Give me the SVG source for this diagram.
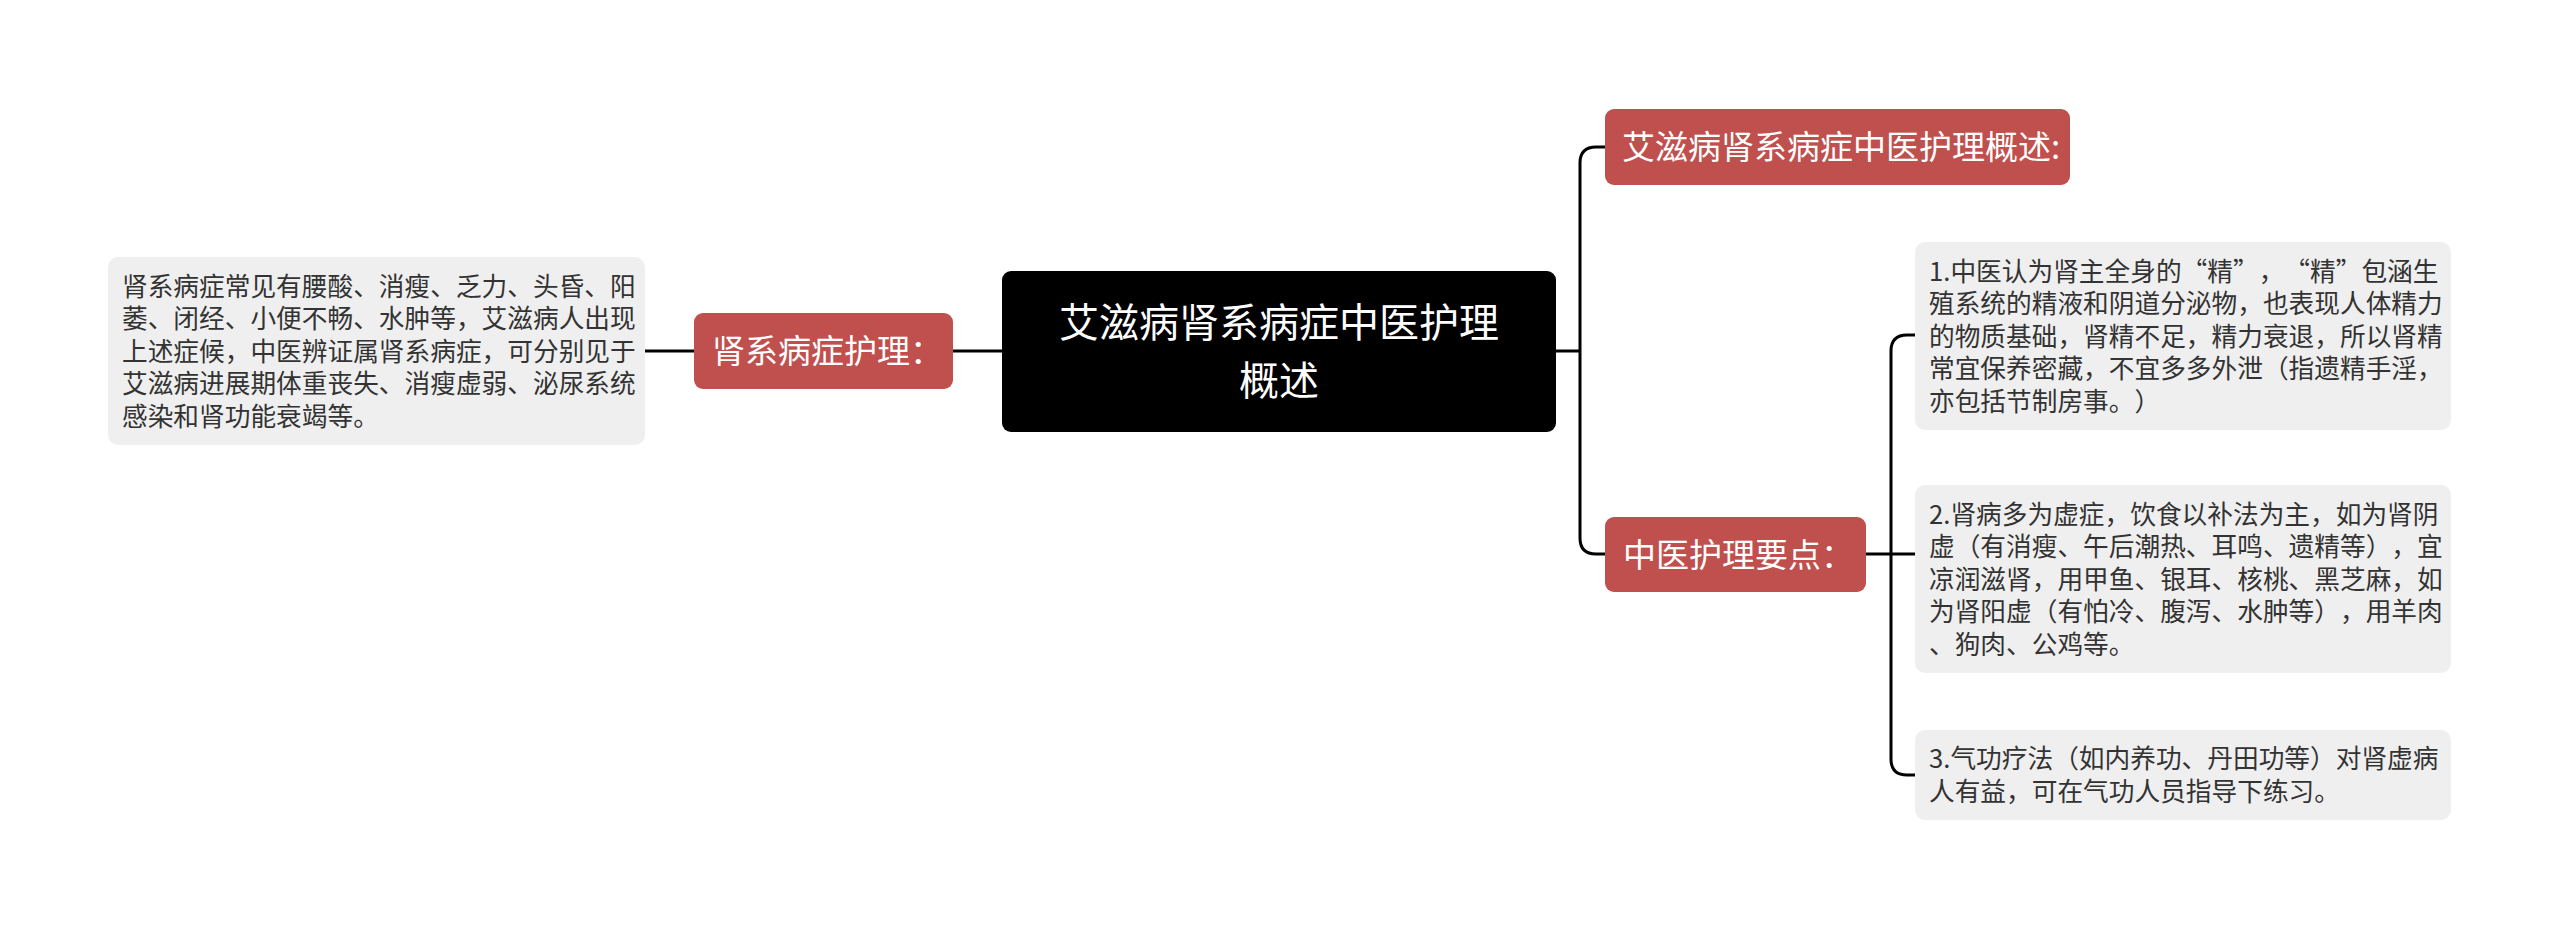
<svg xmlns="http://www.w3.org/2000/svg" width="2560" height="930" viewBox="0 0 2560 930">
<style>
.bg{fill:#ffffff}
.conn{fill:none;stroke:#000000;stroke-width:3}
.root{fill:#000000}
.red{fill:#c0504d}
.note{fill:#efefef}
.t{font-family:"Noto Sans CJK SC","Noto Sans",sans-serif;text-spacing-trim:space-all}
.rootT{font-size:40px;fill:#ffffff}
.redT{font-size:33px;fill:#ffffff}
.noteT{font-size:25.7px;fill:#333333}
.fw{font-feature-settings:"fwid" 1}
</style>
<rect class="bg" x="0" y="0" width="2560" height="930"/>
<g id="connectors">
<path class="conn" d="M645,351 H694"/>
<path class="conn" d="M953,351 H1002"/>
<path class="conn" d="M1556,351 H1580"/>
<path class="conn" d="M1580,351 V163 Q1580,147 1596,147 H1605"/>
<path class="conn" d="M1580,351 V538 Q1580,554 1596,554 H1605"/>
<path class="conn" d="M1866,554 H1915"/>
<path class="conn" d="M1891,554 V351 Q1891,335 1907,335 H1915"/>
<path class="conn" d="M1891,554 V759 Q1891,775 1907,775 H1915"/>
</g>
<g id="root">
<rect class="root" x="1002" y="271" width="554" height="161" rx="9"/>
<text class="t rootT" x="1279" y="337" text-anchor="middle">艾滋病肾系病症中医护理</text>
<text class="t rootT" x="1279" y="395" text-anchor="middle">概述</text>
</g>
<g id="left-node">
<rect class="red" x="694" y="313" width="259" height="76" rx="9"/>
<text class="t redT" x="712" y="363">肾系病症护理：</text>
</g>
<g id="left-note">
<rect class="note" x="108" y="257" width="537" height="188" rx="10"/>
<text class="t noteT" x="122" y="295.5">肾系病症常见有腰酸、消瘦、乏力、头昏、阳</text>
<text class="t noteT" x="122" y="328">萎、闭经、小便不畅、水肿等，艾滋病人出现</text>
<text class="t noteT" x="122" y="360.5">上述症候，中医辨证属肾系病症，可分别见于</text>
<text class="t noteT" x="122" y="393">艾滋病进展期体重丧失、消瘦虚弱、泌尿系统</text>
<text class="t noteT" x="122" y="425.5">感染和肾功能衰竭等。</text>
</g>
<g id="right-node-1">
<rect class="red" x="1605" y="109" width="465" height="76" rx="9"/>
<text class="t redT" x="1622" y="159">艾滋病肾系病症中医护理概述:</text>
</g>
<g id="right-node-2">
<rect class="red" x="1605" y="517" width="261" height="75" rx="9"/>
<text class="t redT" x="1623" y="566.5">中医护理要点：</text>
</g>
<g id="note-1">
<rect class="note" x="1915" y="242" width="536" height="188" rx="10"/>
<text class="t noteT" x="1929" y="280.5">1.中医认为肾主全身的<tspan class="fw">“精”，“精”</tspan>包涵生</text>
<text class="t noteT" x="1929" y="313">殖系统的精液和阴道分泌物，也表现人体精力</text>
<text class="t noteT" x="1929" y="345.5">的物质基础，肾精不足，精力衰退，所以肾精</text>
<text class="t noteT" x="1929" y="378">常宜保养密藏，不宜多多外泄（指遗精手淫，</text>
<text class="t noteT" x="1929" y="410.5">亦包括节制房事。）</text>
</g>
<g id="note-2">
<rect class="note" x="1915" y="485" width="536" height="188" rx="10"/>
<text class="t noteT" x="1929" y="523.5">2.肾病多为虚症，饮食以补法为主，如为肾阴</text>
<text class="t noteT" x="1929" y="556">虚（有消瘦、午后潮热、耳鸣、遗精等），宜</text>
<text class="t noteT" x="1929" y="588.5">凉润滋肾，用甲鱼、银耳、核桃、黑芝麻，如</text>
<text class="t noteT" x="1929" y="621">为肾阳虚（有怕冷、腹泻、水肿等），用羊肉</text>
<text class="t noteT" x="1929" y="653.5">、狗肉、公鸡等。</text>
</g>
<g id="note-3">
<rect class="note" x="1915" y="730" width="536" height="90" rx="10"/>
<text class="t noteT" x="1929" y="768">3.气功疗法（如内养功、丹田功等）对肾虚病</text>
<text class="t noteT" x="1929" y="800.5">人有益，可在气功人员指导下练习。</text>
</g>
</svg>
